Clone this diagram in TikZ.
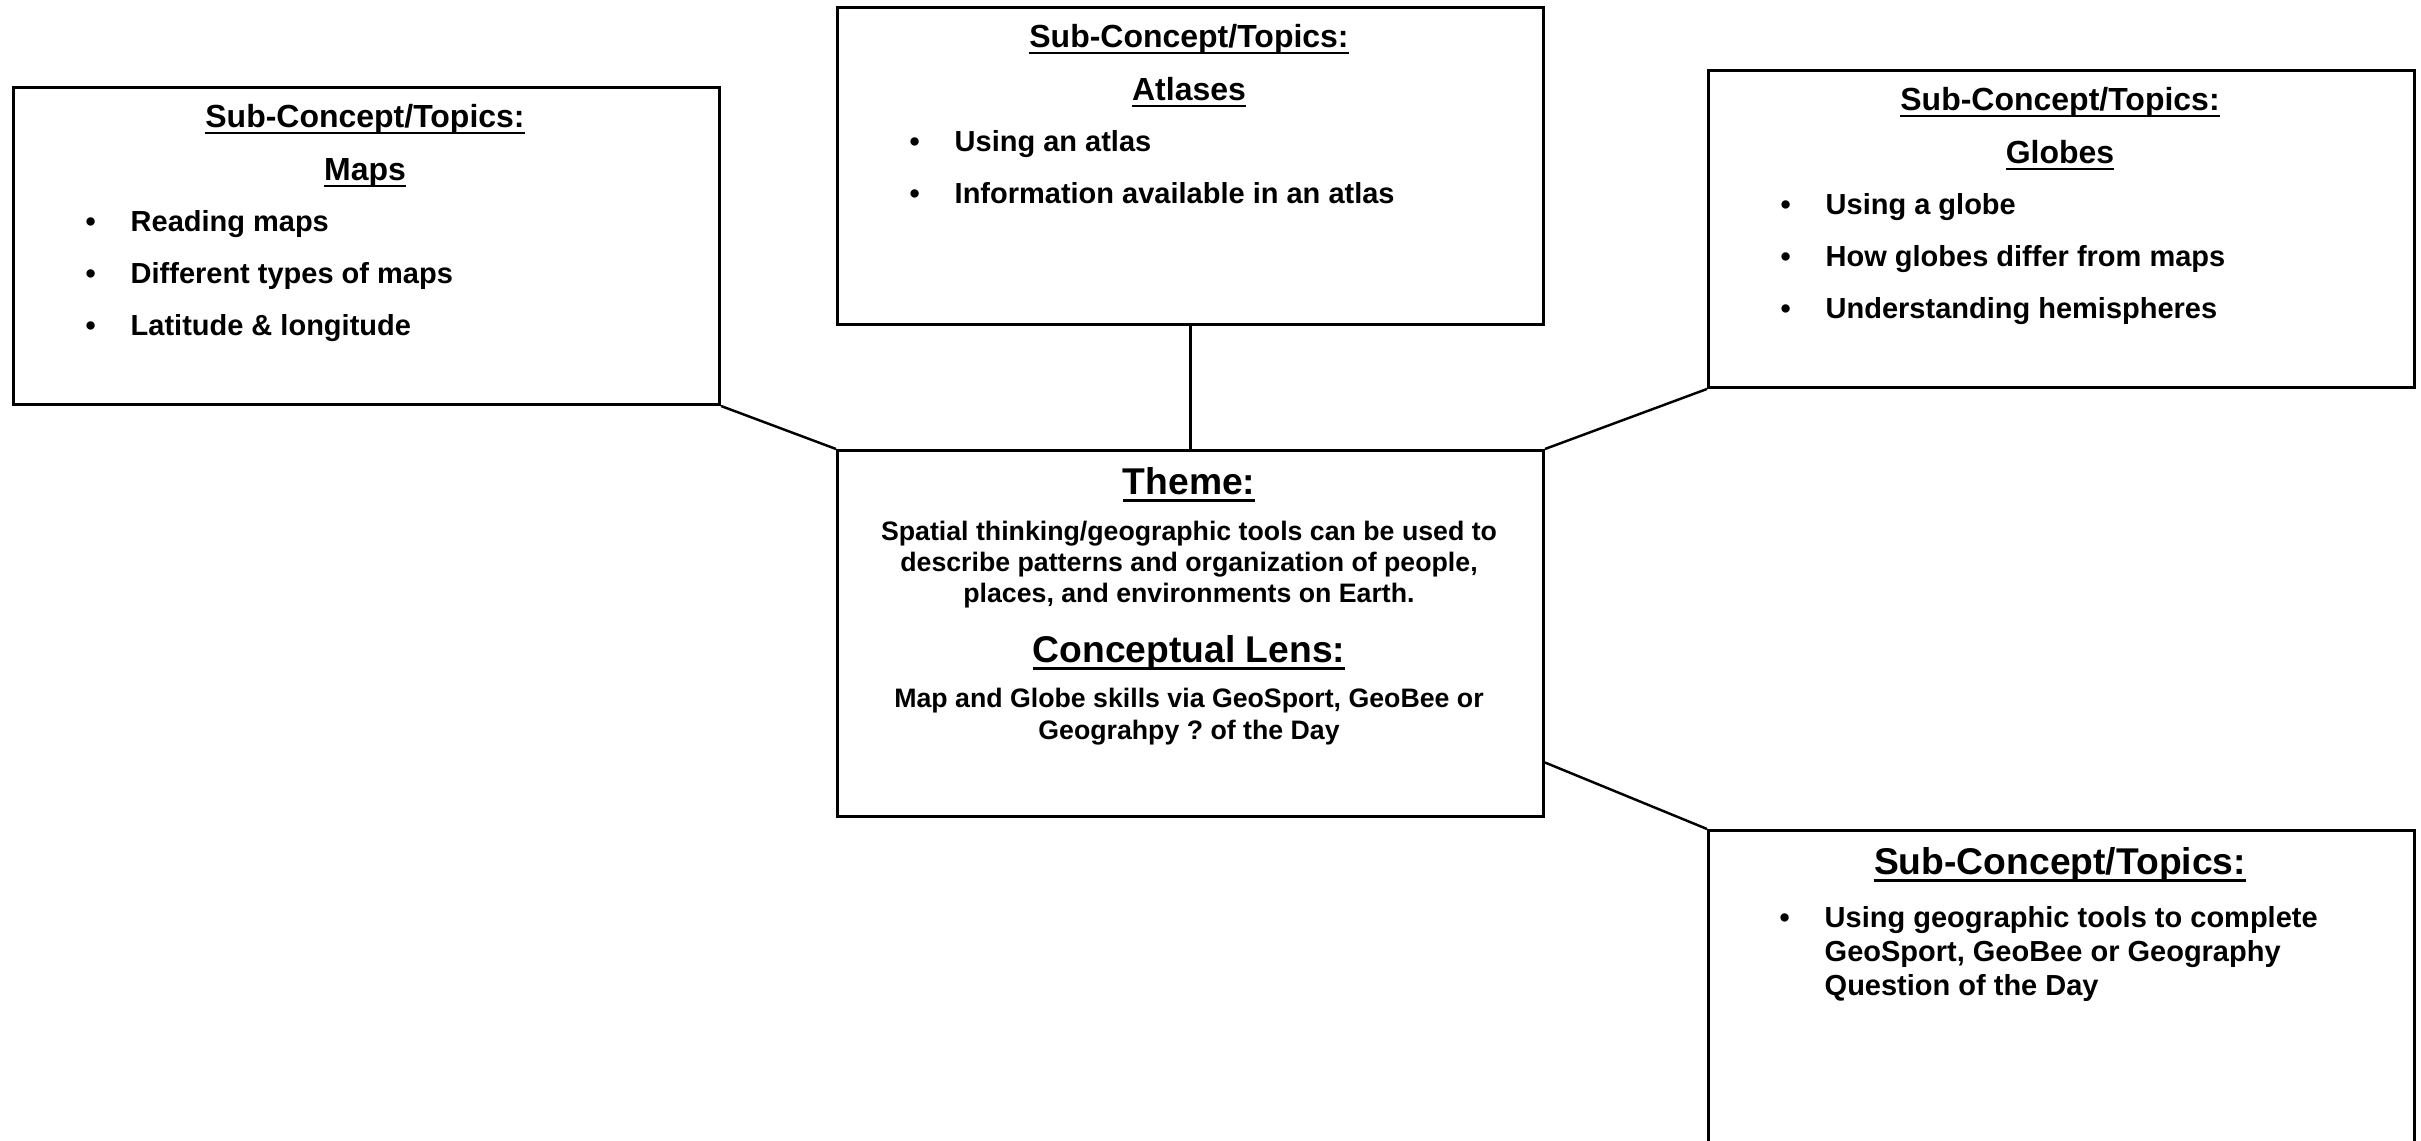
\documentclass[tikz,border=0pt]{standalone}
\usepackage{fontspec}
\setmainfont{Liberation Sans}
\usetikzlibrary{positioning}
\tikzset{
  font={\fontsize{8.25pt}{10}\selectfont\bfseries}
}
\def\lineColor{black}
\def\boxWidth{7.06}
\def\boxHalf{3.53}
\def\itemIndent{1.18}
\def\itemSep{0.52}
\newcommand{\undl}[1]{\setbox0\hbox{#1}\rlap{\rule[-0.2em]{\wd0}{0.09em}}\box0}
\newcommand{\bul}{\llap{\textbullet\hspace{0.35cm}}}
\tikzstyle{topicbox}=[rectangle,draw=\lineColor,line width=0.85pt,minimum width=\boxWidth cm,minimum height=3.17cm,inner sep=0pt,anchor=north west]
\tikzstyle{connection}=[line width=0.7pt,draw=\lineColor]
\tikzstyle{heading}=[anchor=base,inner sep=0pt,font={\fontsize{9.1pt}{11}\selectfont\bfseries}]
\tikzstyle{bigheading}=[anchor=base,inner sep=0pt,font={\fontsize{10.6pt}{12}\selectfont\bfseries}]
\tikzstyle{item}=[anchor=base west,inner sep=0pt]
\tikzstyle{themetext}=[align=center,inner sep=0pt,font={\fontsize{7.6pt}{8.8pt}\selectfont\bfseries}]
\newcommand{\topicBox}[5]{
    \node[topicbox] (#1) at (#2, #3) {};
    \node[heading] (#1-title) at (#2+\boxHalf, #3-0.42) {\undl{Sub-Concept/Topics:}};
    \node[heading] (#1-sub) at (#2+\boxHalf, #3-0.95) {\undl{#4}};
    \foreach \txt [count=\i] in {#5}
        \node[item] (#1-item\i) at (#2+\itemIndent, #3-1.46-\i*\itemSep+\itemSep) {\bul\txt};
}

\begin{document}
\frenchspacing
\begin{tikzpicture}
    \useasboundingbox (0,0) rectangle (24.21,-11.41);
    \clip (0,0) rectangle (24.21,-11.41);

    \topicBox{maps}{0.12}{-0.86}{Maps}{Reading maps,Different types of maps,Latitude \& longitude}

    \topicBox{atlas}{8.36}{-0.06}{Atlases}{Using an atlas,Information available in an atlas}

    \topicBox{globes}{17.07}{-0.69}{Globes}{Using a globe,How globes differ from maps,Understanding hemispheres}

    % theme in the middle
    \node[topicbox,minimum height=3.66cm] (theme) at (8.36,-4.49) {};
    \node[bigheading] (theme-title) at (11.89,-4.95) {\undl{Theme:}};
    \node[themetext] (theme-text) at (11.89,-5.65) {Spatial thinking/geographic tools can be used to\\describe patterns and organization of people,\\places, and environments on Earth.};
    \node[bigheading] (lens-title) at (11.89,-6.63) {\undl{Conceptual Lens:}};
    \node[themetext,font={\fontsize{7.6pt}{9.1pt}\selectfont\bfseries}] (lens-text) at (11.89,-7.17) {Map and Globe skills via GeoSport, GeoBee or\\Geograhpy ? of the Day};

    % last box, runs off the page
    \node[topicbox,minimum height=3.4cm] (question) at (17.07,-8.29) {};
    \node[bigheading] (question-title) at (20.60,-8.75) {\undl{Sub-Concept/Topics:}};
    \node[item,anchor=north west,align=left,font={\fontsize{8.25pt}{9.7pt}\selectfont\bfseries}] (question-item1) at (18.24,-9.06) {\bul Using geographic tools to complete\\GeoSport, GeoBee or Geography\\Question of the Day};

    \draw[connection] (maps.south east) -- (theme.north west);
    \draw[connection] (atlas.south) -- (theme.north);
    \draw[connection] (globes.south west) -- (theme.north east);
    \draw[connection] (theme.-20.8) -- (question.north west);
\end{tikzpicture}
\end{document}
